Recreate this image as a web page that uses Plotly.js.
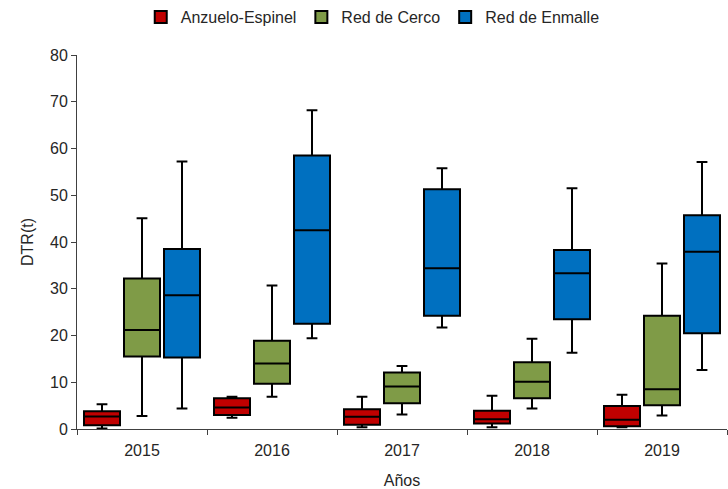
<!DOCTYPE html>
<html>
<head>
<meta charset="utf-8">
<script src="https://cdn.plot.ly/plotly-3.0.1.min.js"></script>
<style>body{margin:0;padding:0;background:#fff}#chart{width:728px;height:489px}</style>
</head>
<body>
<div id="chart"></div>
<script>
const years = ["2015", "2016", "2017", "2018", "2019"];
const seriesNames = ["Anzuelo-Espinel", "Red de Cerco", "Red de Enmalle"];

// Anzuelo-Espinel
const aeLow = [0.1, 2.4, 0.4, 0.4, 0.4];
const aeQ1 = [0.8, 3.0, 0.9, 1.2, 0.6];
const aeMed = [2.7, 4.6, 2.6, 2.1, 2.0];
const aeQ3 = [3.8, 6.6, 4.2, 3.9, 4.9];
const aeHigh = [5.3, 6.9, 6.9, 7.1, 7.3];

// Red de Cerco
const rcLow = [2.8, 6.9, 3.1, 4.4, 2.9];
const rcQ1 = [15.5, 9.7, 5.5, 6.6, 5.1];
const rcMed = [21.2, 14.0, 9.1, 10.1, 8.5];
const rcQ3 = [32.2, 18.9, 12.1, 14.3, 24.2];
const rcHigh = [45.1, 30.7, 13.5, 19.3, 35.4];

// Red de Enmalle
const reLow = [4.4, 19.4, 21.7, 16.3, 12.6];
const reQ1 = [15.3, 22.5, 24.2, 23.5, 20.5];
const reMed = [28.6, 42.5, 34.4, 33.3, 37.9];
const reQ3 = [38.5, 58.5, 51.3, 38.3, 45.7];
const reHigh = [57.2, 68.2, 55.8, 51.5, 57.1];

const colors = ["#C00000", "#7F9B47", "#0070C0"];

function mk(name, color, low, q1, med, q3, high) {
  return {
    type: "box",
    name: name,
    x: years,
    lowerfence: low,
    q1: q1,
    median: med,
    q3: q3,
    upperfence: high,
    fillcolor: color,
    line: {color: "#000000", width: 2},
    whiskerwidth: 0.3,
    boxpoints: false,
    hoverinfo: "skip"
  };
}

const data = [
  mk(seriesNames[0], colors[0], aeLow, aeQ1, aeMed, aeQ3, aeHigh),
  mk(seriesNames[1], colors[1], rcLow, rcQ1, rcMed, rcQ3, rcHigh),
  mk(seriesNames[2], colors[2], reLow, reQ1, reMed, reQ3, reHigh)
];

const font = {family: "Liberation Sans, Arial, sans-serif", size: 16, color: "#262626"};

const layout = {
  width: 728,
  height: 489,
  margin: {l: 77, r: 1, t: 55, b: 60},
  paper_bgcolor: "#ffffff",
  plot_bgcolor: "#ffffff",
  font: font,
  boxmode: "group",
  boxgap: 0.077,
  boxgroupgap: 0.1,
  showlegend: true,
  legend: {
    orientation: "h",
    xref: "container",
    yref: "container",
    x: 0.512, xanchor: "center",
    y: 0.965, yanchor: "middle",
    font: font,
    itemclick: false
  },
  xaxis: {
    type: "category",
    automargin: false,
    showline: true,
    linecolor: "#404040",
    linewidth: 1,
    ticks: "outside",
    tickson: "boundaries",
    ticklen: 5,
    tickcolor: "#404040",
    ticklabelstandoff: 7,
    showgrid: false,
    zeroline: false,
    tickfont: font,
    title: {text: "Años", font: font, standoff: 16}
  },
  yaxis: {
    range: [0, 80],
    dtick: 10,
    automargin: false,
    showline: true,
    linecolor: "#404040",
    linewidth: 1,
    ticks: "outside",
    ticklen: 5,
    tickcolor: "#404040",
    showgrid: false,
    zeroline: false,
    tickfont: font,
    title: {text: "DTR(t)", font: font, standoff: 12}
  }
};

Plotly.newPlot("chart", data, layout, {staticPlot: true, displayModeBar: false});
</script>
</body>
</html>
